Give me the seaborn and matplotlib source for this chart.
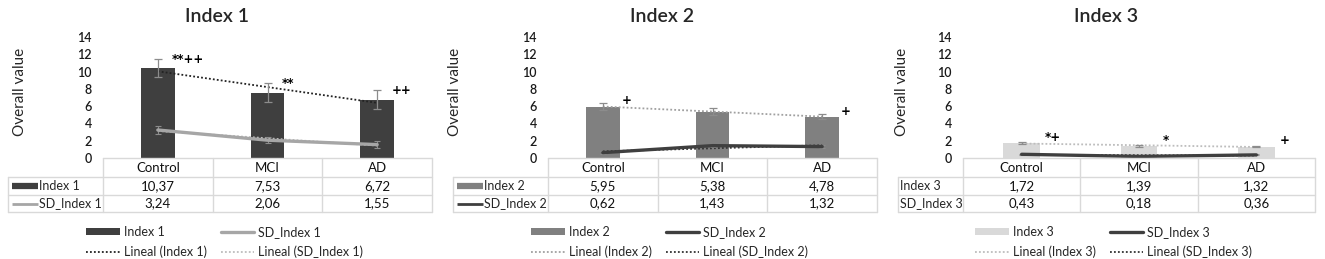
import matplotlib
matplotlib.use("Agg")
import matplotlib.pyplot as plt
import matplotlib.transforms as mtransforms
from matplotlib.lines import Line2D
from matplotlib.patches import Patch
import seaborn as sns
import numpy as np

sns.set_style("white")
plt.rcParams['font.family'] = ['Lato', 'DejaVu Sans']

W, H = 1325, 259

# data
groups = ["Control", "MCI", "AD"]
index1 = [10.37, 7.53, 6.72]
sd_index1 = [3.24, 2.06, 1.55]
index2 = [5.95, 5.38, 4.78]
sd_index2 = [0.62, 1.43, 1.32]
index3 = [1.72, 1.39, 1.32]
sd_index3 = [0.43, 0.18, 0.36]

# error bar sizes
err_index1 = [1.05, 1.1, 1.1]
err_sd1 = [0.45, 0.35, 0.4]
err_index2 = [0.4, 0.35, 0.3]
err_sd2 = [0.2, 0.2, 0.2]
err_index3 = [0.12, 0.1, 0.1]
err_sd3 = [0.05, 0.05, 0.05]

marks1 = ["**++", "**", "++"]
marks2 = ["+", "", "+"]
marks3 = ["*+", "*", "+"]

panels = [
    dict(name="Index 1", vals=index1, sd=sd_index1, err=err_index1, errsd=err_sd1,
         marks=marks1, bar="#3f3f3f", line="#a6a6a6", tbar="#222222", tline="#bdbdbd",
         L=103, R=432, lab=8, title_x=217, ylab_x=20, keys=True, legx=80,
         moff=(0.13, 0.0)),
    dict(name="Index 2", vals=index2, sd=sd_index2, err=err_index2, errsd=err_sd2,
         marks=marks2, bar="#808080", line="#3f3f3f", tbar="#a0a0a0", tline="#333333",
         L=548, R=877, lab=453, title_x=662, ylab_x=455, keys=True, legx=525,
         moff=(0.17, 0.35)),
    dict(name="Index 3", vals=index3, sd=sd_index3, err=err_index3, errsd=err_sd3,
         marks=marks3, bar="#d9d9d9", line="#3f3f3f", tbar="#bdbdbd", tline="#333333",
         L=963, R=1315, lab=898, title_x=1106, ylab_x=902, keys=False, legx=969,
         moff=(0.2, 0.55)),
]

fig = plt.figure(figsize=(W / 100, H / 100), dpi=100)
grid_c = "#d9d9d9"
TOP, BOT = 37, 158
rows_y = [158, 177, 195, 212]
dots = (0, (1, 1.2))

for p in panels:
    L, R = p["L"], p["R"]
    ax = fig.add_axes([L / W, 1 - BOT / H, (R - L) / W, (BOT - TOP) / H])
    x = np.arange(3)
    sns.barplot(x=groups, y=p["vals"], color=p["bar"], width=0.31, ax=ax,
                saturation=1, edgecolor="none", errorbar=None)
    ax.errorbar(x, p["vals"], yerr=p["err"], fmt="none", ecolor="#8c8c8c",
                elinewidth=0.9, capsize=3, capthick=0.9, zorder=4)
    # trend lines (linear fit, Excel "Lineal")
    c1 = np.polyfit(x, p["vals"], 1)
    ax.plot(x, np.polyval(c1, x), ls=dots, color=p["tbar"], lw=1.3, zorder=3)
    c2 = np.polyfit(x, p["sd"], 1)
    ax.plot(x, np.polyval(c2, x), ls=dots, color=p["tline"], lw=1.3, zorder=5)
    ax.errorbar(x, p["sd"], yerr=p["errsd"], fmt="none", ecolor="#8c8c8c",
                elinewidth=0.8, capsize=2.5, capthick=0.8, zorder=5)
    ax.plot(x, p["sd"], color=p["line"], lw=2.4, zorder=6, solid_capstyle="round")
    dx, dy = p["moff"]
    for i, m in enumerate(p["marks"]):
        if m:
            top = p["vals"][i] + p["err"][i]
            ax.text(i + dx, top + dy, m, fontsize=8.5, fontweight="bold",
                    family="DejaVu Sans", ha="left", va="center", color="black")
    ax.set_xlim(-0.5, 2.5)
    ax.set_ylim(0, 14)
    ax.set_yticks(range(0, 15, 2))
    ax.tick_params(axis="y", length=0, pad=8, labelsize=9, colors="#1a1a1a")
    for t in ax.get_yticklabels():
        t.set_fontweight("semibold")
    ax.set_xticks([])
    ax.set_xlabel("")
    for s in ax.spines.values():
        s.set_visible(False)
    fig.text(p["ylab_x"] / W, 1 - 92 / H, "Overall value", rotation=90,
             ha="center", va="center", fontsize=11)
    fig.text(p["title_x"] / W, 1 - 16 / H, p["name"], ha="center", va="center",
             fontsize=14, fontweight="semibold")

    # data table under the axis
    tr = mtransforms.blended_transform_factory(ax.transData, fig.transFigure)
    fy = lambda yy: 1 - yy / H
    fx = lambda xx: xx / W
    lk = dict(color=grid_c, lw=1, transform=fig.transFigure, clip_on=False)
    fig.add_artist(Line2D([fx(L), fx(R)], [fy(rows_y[0])] * 2, **lk))
    for yy in rows_y[1:]:
        fig.add_artist(Line2D([fx(p["lab"]), fx(R)], [fy(yy)] * 2, **lk))
    fig.add_artist(Line2D([fx(p["lab"])] * 2, [fy(rows_y[1]), fy(rows_y[3])], **lk))
    fig.add_artist(Line2D([fx(R)] * 2, [fy(rows_y[0]), fy(rows_y[3])], **lk))
    for b in [-0.5, 0.5, 1.5]:
        ax.add_artist(Line2D([b, b], [fy(rows_y[0]), fy(rows_y[3])], color=grid_c,
                             lw=1, transform=tr, clip_on=False))
    cy = [(rows_y[k] + rows_y[k + 1]) / 2 for k in range(3)]
    tk = dict(transform=tr, ha="center", va="center", fontsize=9.5, color="#111111")
    for i, g in enumerate(groups):
        ax.text(i, fy(cy[0]), g, **tk)
        ax.text(i, fy(cy[1]), f"{p['vals'][i]:.2f}".replace(".", ","), **tk)
        ax.text(i, fy(cy[2]), f"{p['sd'][i]:.2f}".replace(".", ","), **tk)
    tx = p["lab"] + 2
    if p["keys"]:
        fig.add_artist(Line2D([fx(p["lab"] + 4), fx(p["lab"] + 30)], [fy(cy[1])] * 2,
                              color=p["bar"], lw=4.5, solid_capstyle="butt",
                              transform=fig.transFigure))
        fig.add_artist(Line2D([fx(p["lab"] + 4), fx(p["lab"] + 30)], [fy(cy[2])] * 2,
                              color=p["line"], lw=2, solid_capstyle="butt",
                              transform=fig.transFigure))
        tx = p["lab"] + 31
    fig.text(fx(tx), fy(cy[1]), p["name"], ha="left", va="center", fontsize=9)
    fig.text(fx(tx), fy(cy[2]), "SD_" + p["name"], ha="left", va="center", fontsize=9)

    handles = [
        Patch(facecolor=p["bar"], edgecolor="none"),
        Line2D([], [], ls=dots, color=p["tbar"], lw=1.3),
        Line2D([], [], color=p["line"], lw=2.4),
        Line2D([], [], ls=dots, color=p["tline"], lw=1.3),
    ]
    labels = [p["name"], f"Lineal ({p['name']})", "SD_" + p["name"],
              f"Lineal (SD_{p['name']})"]
    fig.legend(handles, labels, ncol=2, frameon=False, fontsize=9,
               loc="upper left", bbox_to_anchor=(fx(p["legx"]), fy(220)),
               handlelength=2.7, handleheight=0.5, handletextpad=0.3,
               columnspacing=1.1, labelspacing=0.6, borderpad=0)

fig.savefig("out.png", dpi=100)
